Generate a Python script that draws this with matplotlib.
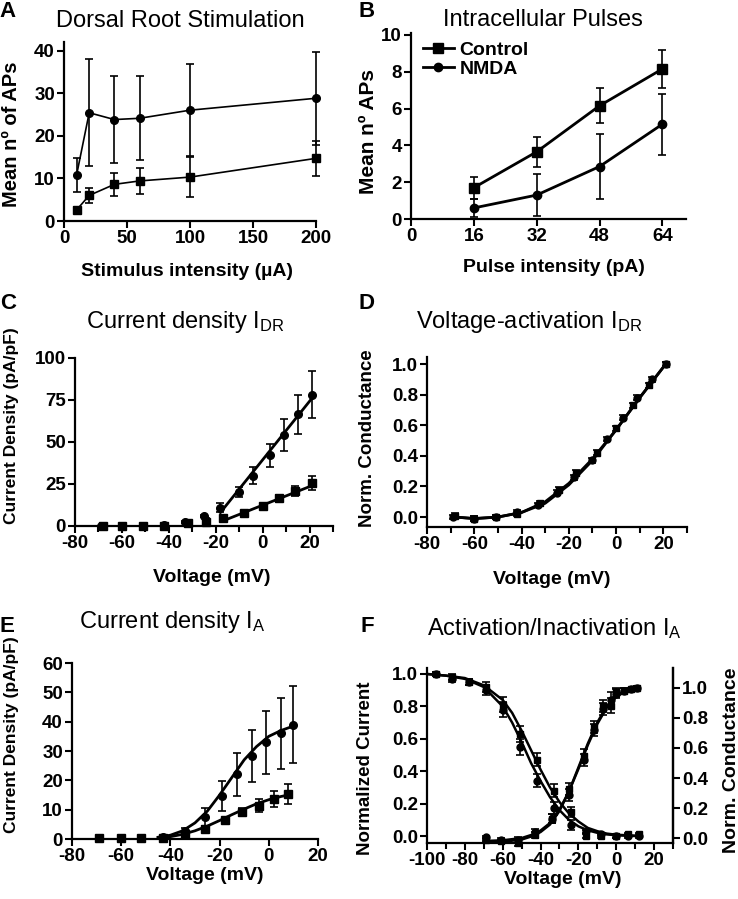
import matplotlib

matplotlib.use("Agg")
import matplotlib.pyplot as plt
from matplotlib.ticker import FormatStrFormatter, MultipleLocator

W, H = 738, 899

plt.rcParams["font.family"] = ["Liberation Sans", "DejaVu Sans"]
plt.rcParams["axes.unicode_minus"] = False
plt.rcParams["mathtext.default"] = "regular"

# --- A: dorsal root stimulation ---
a_x = [10, 20, 40, 60, 100, 200]
a_nmda = [10.8, 25.4, 23.8, 24.1, 26.0, 28.8]
a_nmda_err = [3.9, 12.6, 10.2, 9.9, 10.8, 10.9]
a_ctrl = [2.6, 6.0, 8.6, 9.4, 10.3, 14.7]
a_ctrl_err = [0.8, 1.8, 2.7, 3.0, 4.7, 4.1]

# --- B: intracellular pulses ---
b_x = [16, 32, 48, 64]
b_ctrl = [1.7, 3.65, 6.15, 8.15]
b_ctrl_err = [0.6, 0.8, 0.95, 1.05]
b_nmda = [0.6, 1.3, 2.85, 5.15]
b_nmda_err = [0.5, 1.15, 1.75, 1.65]

# --- C: current density I_DR ---
c_x_nmda = [-69, -60, -51, -42, -33, -25, -18, -10, -4, 3, 9, 15, 21]
c_nmda = [0.0, 0.0, 0.0, 0.5, 2.5, 6.0, 11.0, 20.0, 30.0, 42.0, 54.0, 66.5, 78.0]
c_nmda_err = [0, 0, 0, 0.3, 0.5, 0.8, 2.5, 3.0, 5.0, 7.0, 9.5, 11.5, 14.0]
c_x_ctrl = [-68, -60, -51, -42, -32, -24, -17, -8, 0, 7, 14, 21]
c_ctrl = [0.0, 0.0, 0.0, 0.0, 1.5, 2.5, 5.0, 8.0, 12.0, 16.5, 21.0, 25.5]
c_ctrl_err = [0, 0, 0, 0, 0.3, 2.0, 0.6, 1.0, 1.2, 2.0, 3.0, 4.0]
c_fit_x_nmda = [-18, 21]
c_fit_nmda = [8.0, 76.0]
c_fit_x_ctrl = [-17, 21]
c_fit_ctrl = [3.0, 24.0]

# --- D: voltage-activation I_DR ---
d_nmda = [0.0, -0.01, 0.0, 0.03, 0.08, 0.16, 0.26, 0.37, 0.51, 0.65, 0.78, 0.90, 1.0]
d_ctrl = [0.01, -0.01, 0.0, 0.02, 0.09, 0.18, 0.29, 0.42, 0.58, 0.73, 0.86, 1.0]
d_err = 0.015
d_fit_x = [-68, -60, -50, -40, -30, -20, -10, 0, 10, 21]
d_fit_nmda = [0.0, -0.01, 0.0, 0.03, 0.10, 0.22, 0.38, 0.57, 0.78, 1.0]
d_fit_ctrl = [0.0, -0.01, 0.0, 0.03, 0.09, 0.21, 0.37, 0.57, 0.78, 1.0]

# --- E: current density I_A ---
e_x_nmda = [-69, -60, -52, -43, -34, -26, -19, -13, -7, -1, 5, 10]
e_nmda = [0.3, 0.3, 0.4, 0.6, 2.7, 7.5, 14.7, 22.0, 28.3, 33.0, 36.0, 39.0]
e_nmda_err = [0.2, 0.2, 0.2, 0.3, 1.0, 3.0, 5.0, 7.3, 9.0, 10.7, 12.0, 13.0]
e_x_ctrl = [-69, -60, -52, -43, -34, -26, -18, -11, -4, 2, 8]
e_ctrl = [0.4, 0.4, 0.4, 0.5, 1.6, 3.5, 6.4, 9.2, 11.4, 13.6, 15.2]
e_ctrl_err = [0.2, 0.2, 0.2, 0.2, 1.0, 0.7, 0.6, 1.3, 2.3, 2.8, 3.4]
e_fit_x_nmda = [-45, -40, -35, -30, -25, -20, -15, -10, -5, 0, 5, 10]
e_fit_nmda = [0.6, 1.3, 2.8, 5.5, 9.5, 15.0, 21.0, 27.0, 31.5, 35.0, 37.0, 38.5]
e_fit_x_ctrl = [-45, -40, -35, -30, -25, -20, -15, -10, -5, 0, 5, 8]
e_fit_ctrl = [0.4, 0.8, 1.6, 2.8, 4.4, 6.3, 8.3, 10.2, 12.0, 13.4, 14.5, 15.0]

# --- F: activation / inactivation I_A ---
f_x_inact = [-95, -87, -78, -69, -60, -51, -42, -33, -24, -16, -8, 0, 6, 12]
f_inact_ctrl = [1.0, 0.98, 0.95, 0.92, 0.81, 0.63, 0.47, 0.28, 0.15, 0.0, 0.0, 0.0, 0.01, 0.01]
f_inact_nmda = [1.0, 0.97, 0.95, 0.90, 0.78, 0.55, 0.34, 0.17, 0.07, 0.03, 0.01, 0.0, 0.0, 0.0]
f_inact_err = [0.01, 0.02, 0.02, 0.03, 0.045, 0.05, 0.04, 0.04, 0.03, 0.01, 0.01, 0.01, 0.01, 0.01]
f_fit_x_inact = [-100, -90, -80, -70, -60, -55, -50, -45, -40, -35, -30, -25, -20, -15, -10, -5, 0, 10]
f_fit_inact_nmda = [1.0, 0.99, 0.97, 0.92, 0.80, 0.70, 0.58, 0.45, 0.34, 0.24, 0.16, 0.10,
                    0.06, 0.035, 0.02, 0.01, 0.005, 0.0]
f_fit_inact_ctrl = [1.0, 0.99, 0.975, 0.93, 0.84, 0.76, 0.65, 0.53, 0.41, 0.30, 0.21, 0.14,
                    0.09, 0.05, 0.03, 0.015, 0.008, 0.002]
f_x_act = [-69, -61, -52, -43, -34, -25, -17, -12, -7, -3, 0, 4, 8, 11]
f_act_nmda = [0.005, -0.01, -0.01, 0.04, 0.13, 0.29, 0.52, 0.72, 0.86, 0.92, 0.96, 0.98, 0.99, 1.0]
f_act_ctrl = [-0.01, -0.02, -0.03, 0.02, 0.13, 0.33, 0.55, 0.74, 0.88, 0.88, 0.97, 0.98, 0.99, 1.0]
f_act_err = [0.01, 0.01, 0.02, 0.02, 0.03, 0.04, 0.04, 0.04, 0.04, 0.05, 0.03, 0.02, 0.01, 0.01]
f_fit_x_act = [-70, -60, -50, -45, -40, -35, -30, -25, -20, -15, -10, -5, 0, 5, 11]
f_fit_act_nmda = [-0.02, -0.015, 0.0, 0.02, 0.05, 0.10, 0.19, 0.31, 0.46, 0.62, 0.76, 0.87, 0.94, 0.98, 1.0]
f_fit_act_ctrl = [-0.03, -0.025, -0.01, 0.01, 0.04, 0.09, 0.18, 0.31, 0.47, 0.63, 0.77, 0.88, 0.95, 0.985, 1.0]

TICK_FS = 13.5
TITLE_FS = 17
LABEL_FS = 14


def add_axes_px(fig, left, top, right, bottom):
    return fig.add_axes([left / W, 1 - bottom / H, (right - left) / W, (bottom - top) / H])


def fig_text(fig, x, y, s, **kw):
    fig.text(x / W, 1 - y / H, s, **kw)


def style_axes(ax, right=False):
    for side in ("top", "right"):
        ax.spines[side].set_visible(right and side == "right")
    for sp in ax.spines.values():
        sp.set_linewidth(1.6)
    ax.tick_params(which="both", direction="out", width=1.5, labelsize=TICK_FS, pad=1.5)
    ax.tick_params(which="major", length=5)
    ax.tick_params(which="minor", length=4)
    for lab in ax.get_xticklabels() + ax.get_yticklabels():
        lab.set_fontweight("bold")
    ax.patch.set_alpha(0)


def errorbars(ax, x, y, err, marker, ms, ls="none", lw=1.5):
    return ax.errorbar(x, y, yerr=err, color="black", marker=marker, ms=ms, ls=ls, lw=lw,
                       elinewidth=1.2, capsize=3, capthick=1.2, clip_on=False, zorder=3)


fig = plt.figure(figsize=(W / 100, H / 100), dpi=100)

# A
ax = add_axes_px(fig, 64, 42, 316, 221)
errorbars(ax, a_x, a_nmda, a_nmda_err, "o", 5.5, ls="-", lw=1.2)
errorbars(ax, a_x, a_ctrl, a_ctrl_err, "s", 6, ls="-", lw=1.2)
ax.set_xlim(0, 200)
ax.set_ylim(0, 42)
ax.xaxis.set_major_locator(MultipleLocator(50))
ax.yaxis.set_major_locator(MultipleLocator(10))
style_axes(ax)

# B
ax = add_axes_px(fig, 411, 33, 686, 219)
h_ctrl = errorbars(ax, b_x, b_ctrl, b_ctrl_err, "s", 6.5, ls="-", lw=2)
h_nmda = errorbars(ax, b_x, b_nmda, b_nmda_err, "o", 6, ls="-", lw=2)
ax.set_xlim(0, 70)
ax.set_ylim(0, 10.1)
ax.set_xticks([0, 16, 32, 48, 64])
ax.yaxis.set_major_locator(MultipleLocator(2))
style_axes(ax)
ax.legend([h_ctrl[0], h_nmda[0]], ["Control", "NMDA"], loc="upper left",
          bbox_to_anchor=(0.0, 1.02), frameon=False, handlelength=1.6,
          handletextpad=0.3, labelspacing=0.1, borderaxespad=0.2,
          prop={"weight": "bold", "size": 14})

# C
ax = add_axes_px(fig, 75, 358, 333, 526)
errorbars(ax, c_x_nmda, c_nmda, c_nmda_err, "o", 5.5)
errorbars(ax, c_x_ctrl, c_ctrl, c_ctrl_err, "s", 5.5)
ax.plot(c_fit_x_nmda, c_fit_nmda, color="black", lw=2)
ax.plot(c_fit_x_ctrl, c_fit_ctrl, color="black", lw=2)
ax.set_xlim(-80, 30)
ax.set_ylim(0, 100)
ax.xaxis.set_major_locator(MultipleLocator(20))
ax.xaxis.set_minor_locator(MultipleLocator(10))
ax.yaxis.set_major_locator(MultipleLocator(25))
style_axes(ax)

# D
ax = add_axes_px(fig, 427, 357, 687, 527)
errorbars(ax, c_x_nmda, d_nmda, d_err, "o", 5)
errorbars(ax, c_x_ctrl, d_ctrl, d_err, "s", 5)
ax.plot(d_fit_x, d_fit_nmda, color="black", lw=2)
ax.plot(d_fit_x, d_fit_ctrl, color="black", lw=2)
ax.set_xlim(-80, 30)
ax.set_ylim(-0.065, 1.046)
ax.xaxis.set_major_locator(MultipleLocator(20))
ax.xaxis.set_minor_locator(MultipleLocator(10))
ax.set_yticks([0.0, 0.2, 0.4, 0.6, 0.8, 1.0])
ax.yaxis.set_major_formatter(FormatStrFormatter("%.1f"))
style_axes(ax)

# E
ax = add_axes_px(fig, 72, 663, 318, 839)
errorbars(ax, e_x_nmda, e_nmda, e_nmda_err, "o", 5.5)
errorbars(ax, e_x_ctrl, e_ctrl, e_ctrl_err, "s", 5.5)
ax.plot(e_fit_x_nmda, e_fit_nmda, color="black", lw=2)
ax.plot(e_fit_x_ctrl, e_fit_ctrl, color="black", lw=2)
ax.set_xlim(-80, 20)
ax.set_ylim(0, 60)
ax.xaxis.set_major_locator(MultipleLocator(20))
ax.yaxis.set_major_locator(MultipleLocator(10))
style_axes(ax)

# F
ax = add_axes_px(fig, 427, 668, 673, 843)
errorbars(ax, f_x_inact, f_inact_nmda, f_inact_err, "o", 5)
errorbars(ax, f_x_inact, f_inact_ctrl, f_inact_err, "s", 5)
ax.plot(f_fit_x_inact, f_fit_inact_nmda, color="black", lw=1.8)
ax.plot(f_fit_x_inact, f_fit_inact_ctrl, color="black", lw=1.8)
ax.set_xlim(-100, 30)
ax.set_ylim(-0.043, 1.037)
ax.xaxis.set_minor_locator(MultipleLocator(10))
ax.set_xticks([-100, -80, -60, -40, -20, 0, 20])
ax.set_yticks([0.0, 0.2, 0.4, 0.6, 0.8, 1.0])
ax.yaxis.set_major_formatter(FormatStrFormatter("%.1f"))
style_axes(ax, right=True)
ax2 = ax.twinx()
errorbars(ax2, f_x_act, f_act_nmda, f_act_err, "o", 5)
errorbars(ax2, f_x_act, f_act_ctrl, f_act_err, "s", 5)
ax2.plot(f_fit_x_act, f_fit_act_nmda, color="black", lw=1.8)
ax2.plot(f_fit_x_act, f_fit_act_ctrl, color="black", lw=1.8)
ax2.set_ylim(-0.033, 1.133)
ax2.set_yticks([0.0, 0.2, 0.4, 0.6, 0.8, 1.0])
ax2.yaxis.set_major_formatter(FormatStrFormatter("%.1f"))
style_axes(ax2, right=True)
ax2.spines["left"].set_visible(False)
ax2.spines["bottom"].set_visible(False)

# panel letters
for letter, (x, y) in {"A": (8, 17), "B": (367, 17), "C": (8, 309),
                       "D": (366, 309), "E": (7, 632), "F": (367, 632)}.items():
    fig_text(fig, x, y, letter, fontsize=16, fontweight="bold", ha="center", va="baseline")

# titles
fig_text(fig, 180, 27, "Dorsal Root Stimulation", fontsize=TITLE_FS, ha="center", va="baseline")
fig_text(fig, 543, 26, "Intracellular Pulses", fontsize=TITLE_FS, ha="center", va="baseline")
fig_text(fig, 185, 328, r"Current density I$_{DR}$", fontsize=TITLE_FS, ha="center", va="baseline")
fig_text(fig, 529, 328, r"Voltage-activation I$_{DR}$", fontsize=TITLE_FS, ha="center", va="baseline")
fig_text(fig, 172, 628, r"Current density I$_{A}$", fontsize=TITLE_FS, ha="center", va="baseline")
fig_text(fig, 554, 635, r"Activation/Inactivation I$_{A}$", fontsize=TITLE_FS, ha="center", va="baseline")

# x labels
bold = dict(fontweight="bold", ha="center", va="center")
fig_text(fig, 187, 271, "Stimulus intensity (µA)", fontsize=LABEL_FS, **bold)
fig_text(fig, 554, 268, "Pulse intensity (pA)", fontsize=LABEL_FS, **bold)
fig_text(fig, 212, 577, "Voltage (mV)", fontsize=LABEL_FS, **bold)
fig_text(fig, 552, 579, "Voltage (mV)", fontsize=LABEL_FS, **bold)
fig_text(fig, 205, 875, "Voltage (mV)", fontsize=LABEL_FS, **bold)
fig_text(fig, 563, 879, "Voltage (mV)", fontsize=LABEL_FS, **bold)

# y labels
fig_text(fig, 12, 134, "Mean nº of APs", fontsize=14.5, rotation=90, **bold)
fig_text(fig, 369, 132, "Mean nº APs", fontsize=15, rotation=90, **bold)
fig_text(fig, 12, 426, "Current Density (pA/pF)", fontsize=12.5, rotation=90, **bold)
fig_text(fig, 368, 438, "Norm. Conductance", fontsize=13.5, rotation=90, **bold)
fig_text(fig, 12, 735, "Current Density (pA/pF)", fontsize=12.5, rotation=90, **bold)
fig_text(fig, 366, 768, "Normalized Current", fontsize=13.5, rotation=90, **bold)
fig_text(fig, 731, 760, "Norm. Conductance", fontsize=14, rotation=90, **bold)

fig.savefig("out.png", dpi=100)
